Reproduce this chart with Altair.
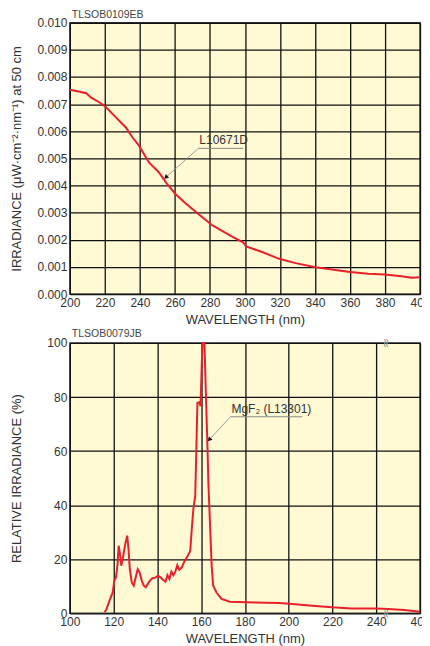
import altair as alt
import pandas as pd

# ---- data ----
top_wl = [200, 205.6, 209.4, 212.2, 217, 220.3, 224.5, 228.2, 232, 235.8, 239.5, 245.2,
          250.8, 255.5, 260.3, 265.9, 273.4, 281.5, 293.2, 298.9, 300.7, 310.2, 319.6,
          329, 340.3, 349.7, 360, 370.4, 379.8, 389.4, 395, 400]
top_irr = [0.00753, 0.00746, 0.0074, 0.00724, 0.00706, 0.00691, 0.00663, 0.00639, 0.00614,
           0.00577, 0.00547, 0.00485, 0.00449, 0.00406, 0.00369, 0.00336, 0.00295, 0.00253,
           0.0021, 0.00191, 0.00176, 0.00154, 0.0013, 0.00114, 0.00099, 0.00091, 0.00081,
           0.00075, 0.00072, 0.00066, 0.0006, 0.00062]

bot_wl = [115.8, 116.6, 118.1, 119.6, 120.3, 121.1, 121.8, 122.3, 122.9, 123.5, 124.4, 125.3,
          126.2, 126.8, 127.4, 128.3, 129.2, 130.1, 131.0, 131.9, 132.9, 133.8, 134.7, 135.6,
          136.5, 137.6, 139.2, 140.4, 141.4, 142.5, 143.7, 144.6, 145.5, 146.4, 147.3, 148.2,
          149.1, 150.0, 151.2, 152.1, 153.5, 155.0, 155.7, 156.5, 157.3, 158.3, 159.1, 159.7,
          160.3, 160.6, 161.5, 162.1, 163.0, 163.3, 164.8, 165.5, 167.0, 169.3, 173.1, 180.6,
          195.7, 201.7, 210.8, 219.8, 228.8, 240.0, 283, 342, 400]
bot_rel = [0.4, 1.2, 4.7, 7.7, 12, 13.3, 18.2, 25, 21.9, 17.6, 21.3, 25.6, 28.7, 23.7, 16.3,
           11.4, 10.2, 13.3, 16.3, 15.1, 12, 10.2, 9.6, 10.8, 12, 12.9, 13.3, 13.9, 13.3, 12.4,
           11.7, 14.1, 12.7, 15.4, 14.1, 15.4, 17.8, 16.1, 17, 18.8, 20.7, 23.1, 31.1, 39.1,
           43.4, 77.9, 78.1, 76.6, 92.6, 100, 100, 82.8, 58.3, 48.3, 17.6, 10.2, 7.7, 5.3, 4.3,
           4.1, 3.8, 3.4, 2.8, 2.2, 1.8, 1.8, 1.6, 1.2, 0.6]

top_ticks_x = list(range(200, 401, 20))
top_ticks_y = [round(i * 0.001, 3) for i in range(11)]
bot_ticks_x = [100, 120, 140, 160, 180, 200, 220, 240, 400]
bot_ticks_y = [0, 20, 40, 60, 80, 100]

top_label = "L10671D"
bot_label = "MgF₂ (L13301)"

BG = "#FFF9D4"
RED = "#E8202A"
FONT = "Liberation Sans"
GREY = "#888888"
W, H = 351, 272

# ---- top chart ----
xs_top = alt.Scale(domain=[200, 400], nice=False, zero=False)
ys_top = alt.Scale(domain=[0, 0.010], nice=False)
ax_top_x = alt.Axis(values=top_ticks_x, tickCount=11, title="WAVELENGTH (nm)")
ax_top_y = alt.Axis(values=top_ticks_y, tickCount=11, format=".3f",
                    title="IRRADIANCE (μW·cm⁻²·nm⁻¹) at 50 cm")
top_df = pd.DataFrame({"wl": top_wl, "irr": top_irr})

top_line = alt.Chart(top_df).mark_line(color=RED, strokeWidth=2).encode(
    x=alt.X("wl:Q", scale=xs_top, axis=ax_top_x),
    y=alt.Y("irr:Q", scale=ys_top, axis=ax_top_y),
)

top_ann = pd.DataFrame({"x": [273.4], "y": [0.00537], "x2": [298.9], "xt": [254.8],
                        "yt": [0.0043], "t": [top_label]})
top_under = alt.Chart(top_ann).mark_rule(color=GREY, strokeWidth=1).encode(
    x=alt.X("x:Q", scale=xs_top, axis=ax_top_x), x2="x2:Q",
    y=alt.Y("y:Q", scale=ys_top, axis=ax_top_y))
top_leader = alt.Chart(top_ann).mark_rule(color=GREY, strokeWidth=0.8).encode(
    x=alt.X("x:Q", scale=xs_top, axis=ax_top_x), x2="xt:Q",
    y=alt.Y("y:Q", scale=ys_top, axis=ax_top_y), y2="yt:Q")
top_arrow = alt.Chart(top_ann).mark_point(shape="triangle-up", filled=True, color="#111",
                                          size=25, angle=229, opacity=1).encode(
    x=alt.X("xt:Q", scale=xs_top, axis=ax_top_x), y=alt.Y("yt:Q", scale=ys_top, axis=ax_top_y))
top_text = alt.Chart(top_ann).mark_text(align="left", baseline="bottom", dy=-1, dx=1,
                                        font=FONT, fontSize=12, color="#333").encode(
    x=alt.X("x:Q", scale=xs_top, axis=ax_top_x), y=alt.Y("y:Q", scale=ys_top, axis=ax_top_y),
    text="t:N")

top = alt.layer(top_line, top_under, top_leader, top_arrow, top_text).properties(
    width=W, height=H,
    title=alt.TitleParams("TLSOB0109EB", anchor="start", frame="group", fontSize=10.5,
                          font=FONT, fontWeight="normal", color="#444", offset=0, dy=4, dx=2),
)

# ---- bottom chart (broken axis 240 -> 400) ----
xs_bot = alt.Scale(domain=[100, 240, 400], range=[0, W * 7 / 8, W], nice=False, zero=False)
ys_bot = alt.Scale(domain=[0, 100], nice=False)
ax_bot_x = alt.Axis(values=bot_ticks_x, title="WAVELENGTH (nm)")
ax_bot_y = alt.Axis(values=bot_ticks_y, title="RELATIVE IRRADIANCE (%)")
bot_df = pd.DataFrame({"wl": bot_wl, "rel": bot_rel})

bot_line = alt.Chart(bot_df).mark_line(color=RED, strokeWidth=2).encode(
    x=alt.X("wl:Q", scale=xs_bot, axis=ax_bot_x),
    y=alt.Y("rel:Q", scale=ys_bot, axis=ax_bot_y),
)

bot_ann = pd.DataFrame({"x": [173.4], "y": [72.7], "x2": [206.2], "xt": [163.7],
                        "yt": [64.2], "t": [bot_label]})
bot_under = alt.Chart(bot_ann).mark_rule(color=GREY, strokeWidth=1).encode(
    x=alt.X("x:Q", scale=xs_bot, axis=ax_bot_x), x2="x2:Q",
    y=alt.Y("y:Q", scale=ys_bot, axis=ax_bot_y))
bot_leader = alt.Chart(bot_ann).mark_rule(color=GREY, strokeWidth=0.8).encode(
    x=alt.X("x:Q", scale=xs_bot, axis=ax_bot_x), x2="xt:Q",
    y=alt.Y("y:Q", scale=ys_bot, axis=ax_bot_y), y2="yt:Q")
bot_arrow = alt.Chart(bot_ann).mark_point(shape="triangle-up", filled=True, color="#111",
                                          size=25, angle=222, opacity=1).encode(
    x=alt.X("xt:Q", scale=xs_bot, axis=ax_bot_x), y=alt.Y("yt:Q", scale=ys_bot, axis=ax_bot_y))
bot_text = alt.Chart(bot_ann).mark_text(align="left", baseline="bottom", dy=-1, dx=1,
                                        font=FONT, fontSize=12, color="#333").encode(
    x=alt.X("x:Q", scale=xs_bot, axis=ax_bot_x), y=alt.Y("y:Q", scale=ys_bot, axis=ax_bot_y),
    text="t:N")

brk = pd.DataFrame({"x": [277, 277], "y": [100, 0]})
bot_break = alt.Chart(brk).mark_text(text="≈", angle=90, fontSize=13, color="#999",
                                     font="DejaVu Sans").encode(
    x=alt.X("x:Q", scale=xs_bot, axis=ax_bot_x), y=alt.Y("y:Q", scale=ys_bot, axis=ax_bot_y))

bottom = alt.layer(bot_line, bot_under, bot_leader, bot_arrow, bot_text, bot_break).properties(
    width=W, height=271,
    title=alt.TitleParams("TLSOB0079JB", anchor="start", frame="group", fontSize=10.5,
                          font=FONT, fontWeight="normal", color="#444", offset=0, dy=3, dx=2),
)

chart = alt.vconcat(top, bottom, spacing=1).properties(
    padding={"left": 2, "top": 0, "right": -9, "bottom": -1}
).configure_axis(
    grid=True, gridColor="#111", gridWidth=1.3, domain=False, ticks=False,
    labelFont=FONT, labelFontSize=12, labelColor="#333", labelPadding=3,
    labelOverlap=False, labelFlush=False,
    titleFont=FONT, titleFontSize=13, titleFontWeight="normal", titleColor="#333",
).configure_axisX(titlePadding=5).configure_axisY(
    titleX=-53, titleBaseline="middle"
).configure_view(fill=BG, stroke="#444", strokeWidth=1.5)

chart.save("out.html", embed_options={"renderer": "svg", "actions": False})
